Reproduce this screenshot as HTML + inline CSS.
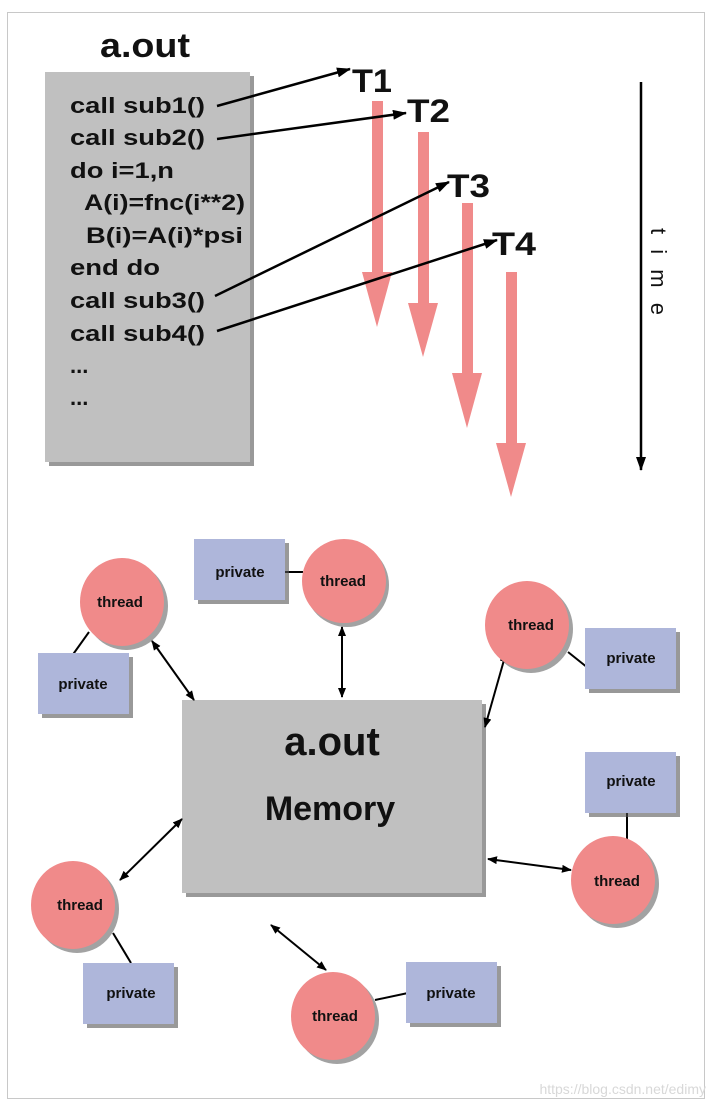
<!DOCTYPE html>
<html><head><meta charset="utf-8"><style>
html,body{margin:0;padding:0;background:#fff;}
svg{display:block;font-family:"Liberation Sans",Arial,sans-serif;font-weight:bold;}
</style></head><body>
<svg width="712" height="1104" viewBox="0 0 712 1104" xmlns="http://www.w3.org/2000/svg">
<defs>
<marker id="ah" markerWidth="10" markerHeight="8" refX="9" refY="4" orient="auto" markerUnits="userSpaceOnUse"><path d="M0,0 L10,4 L0,8 Z" fill="#000"/></marker>
<marker id="as" markerWidth="10" markerHeight="8" refX="1" refY="4" orient="auto" markerUnits="userSpaceOnUse"><path d="M10,0 L0,4 L10,8 Z" fill="#000"/></marker>
<marker id="ah2" markerWidth="14" markerHeight="10" refX="13" refY="5" orient="auto" markerUnits="userSpaceOnUse"><path d="M0,0 L14,5 L0,10 Z" fill="#000"/></marker>
</defs>
<rect x="7.5" y="12.5" width="697" height="1086" fill="#fff" stroke="#c8c8c8" stroke-width="1"/>
<rect x="49" y="76" width="205" height="390" fill="#555" opacity="0.6"/>
<rect x="45" y="72" width="205" height="390" fill="#c0c0c0"/>
<text x="100" y="57" font-size="34" textLength="90" lengthAdjust="spacingAndGlyphs" fill="#111">a.out</text>
<g font-size="22" fill="#111" lengthAdjust="spacingAndGlyphs">
<text x="70" y="113" textLength="135" lengthAdjust="spacingAndGlyphs">call sub1()</text>
<text x="70" y="145" textLength="135" lengthAdjust="spacingAndGlyphs">call sub2()</text>
<text x="70" y="178" textLength="104" lengthAdjust="spacingAndGlyphs">do i=1,n</text>
<text x="84" y="210" textLength="161" lengthAdjust="spacingAndGlyphs">A(i)=fnc(i**2)</text>
<text x="86" y="243" textLength="157" lengthAdjust="spacingAndGlyphs">B(i)=A(i)*psi</text>
<text x="70" y="275" textLength="90" lengthAdjust="spacingAndGlyphs">end do</text>
<text x="70" y="308" textLength="135" lengthAdjust="spacingAndGlyphs">call sub3()</text>
<text x="70" y="341" textLength="135" lengthAdjust="spacingAndGlyphs">call sub4()</text>
<text x="70" y="373">...</text>
<text x="70" y="405">...</text>
</g>
<g fill="#f08a8a">
<path d="M372,101 H383 V272 H392 L377,327 L362,272 H372 Z"/>
<path d="M418,132 H429 V303 H438 L423,357 L408,303 H418 Z"/>
<path d="M462,203 H473 V373 H482 L467,428 L452,373 H462 Z"/>
<path d="M506,272 H517 V443 H526 L511,497 L496,443 H506 Z"/>
</g>
<g font-size="32" fill="#111">
<text x="352" y="92" textLength="40" lengthAdjust="spacingAndGlyphs">T1</text>
<text x="407" y="122" textLength="43" lengthAdjust="spacingAndGlyphs">T2</text>
<text x="447" y="197" textLength="43" lengthAdjust="spacingAndGlyphs">T3</text>
<text x="492" y="255" textLength="44" lengthAdjust="spacingAndGlyphs">T4</text>
</g>
<g stroke="#000" stroke-width="2.5" fill="none">
<line x1="217" y1="106" x2="350" y2="69" marker-end="url(#ah2)"/>
<line x1="217" y1="139" x2="406" y2="113" marker-end="url(#ah2)"/>
<line x1="215" y1="296" x2="449" y2="182" marker-end="url(#ah2)"/>
<line x1="217" y1="331" x2="497" y2="240" marker-end="url(#ah2)"/>
<line x1="641" y1="82" x2="641" y2="470" marker-end="url(#ah2)"/>
</g>
<text font-size="22" font-weight="normal" fill="#111" transform="translate(651,228) rotate(90)" textLength="87" lengthAdjust="spacing">time</text>
<rect x="186" y="704" width="300" height="193" fill="#555" opacity="0.6"/>
<rect x="182" y="700" width="300" height="193" fill="#c0c0c0"/>
<text x="332" y="755" font-size="40" text-anchor="middle" fill="#111">a.out</text>
<text x="330" y="820" font-size="34" text-anchor="middle" fill="#111">Memory</text>
<g stroke="#000" stroke-width="2">
<line x1="89" y1="632" x2="69" y2="660"/>
<line x1="285" y1="572" x2="303" y2="572"/>
<line x1="568" y1="652" x2="588" y2="668"/>
<line x1="627" y1="810" x2="627" y2="840"/>
<line x1="113" y1="933" x2="131" y2="963"/>
<line x1="375" y1="1000" x2="408" y2="993"/>
</g>
<g stroke="#000" stroke-width="2" marker-end="url(#ah)" marker-start="url(#as)">
<line x1="152" y1="641" x2="194" y2="700"/>
<line x1="342" y1="627" x2="342" y2="697"/>
<line x1="506" y1="653" x2="485" y2="727"/>
<line x1="488" y1="859" x2="571" y2="870"/>
<line x1="182" y1="819" x2="120" y2="880"/>
<line x1="271" y1="925" x2="326" y2="970"/>
</g>
<g fill="#555" opacity="0.6">
<rect x="42" y="657" width="91" height="61"/>
<rect x="198" y="543" width="91" height="61"/>
<rect x="589" y="632" width="91" height="61"/>
<rect x="589" y="756" width="91" height="61"/>
<rect x="87" y="967" width="91" height="61"/>
<rect x="410" y="966" width="91" height="61"/>
</g>
<g fill="#aeb6da">
<rect x="38" y="653" width="91" height="61"/>
<rect x="194" y="539" width="91" height="61"/>
<rect x="585" y="628" width="91" height="61"/>
<rect x="585" y="752" width="91" height="61"/>
<rect x="83" y="963" width="91" height="61"/>
<rect x="406" y="962" width="91" height="61"/>
</g>
<g font-size="15" fill="#111" text-anchor="middle">
<text x="83" y="689">private</text>
<text x="240" y="577">private</text>
<text x="631" y="663">private</text>
<text x="631" y="786">private</text>
<text x="131" y="998">private</text>
<text x="451" y="998">private</text>
</g>
<g fill="#555" opacity="0.55">
<ellipse cx="126" cy="606" rx="42" ry="44"/>
<ellipse cx="347" cy="585" rx="42" ry="42"/>
<ellipse cx="531" cy="629" rx="42" ry="44"/>
<ellipse cx="617" cy="884" rx="42" ry="44"/>
<ellipse cx="77" cy="909" rx="42" ry="44"/>
<ellipse cx="337" cy="1020" rx="42" ry="44"/>
</g>
<g fill="#f08a8a">
<ellipse cx="122" cy="602" rx="42" ry="44"/>
<ellipse cx="344" cy="581" rx="42" ry="42"/>
<ellipse cx="527" cy="625" rx="42" ry="44"/>
<ellipse cx="613" cy="880" rx="42" ry="44"/>
<ellipse cx="73" cy="905" rx="42" ry="44"/>
<ellipse cx="333" cy="1016" rx="42" ry="44"/>
</g>
<g font-size="15" fill="#111" text-anchor="middle">
<text x="120" y="607">thread</text>
<text x="343" y="586">thread</text>
<text x="531" y="630">thread</text>
<text x="617" y="886">thread</text>
<text x="80" y="910">thread</text>
<text x="335" y="1021">thread</text>
</g>
<text x="706" y="1094" font-size="14" font-weight="normal" fill="#d8d8d8" text-anchor="end">https://blog.csdn.net/edimy</text>
</svg>
</body></html>
